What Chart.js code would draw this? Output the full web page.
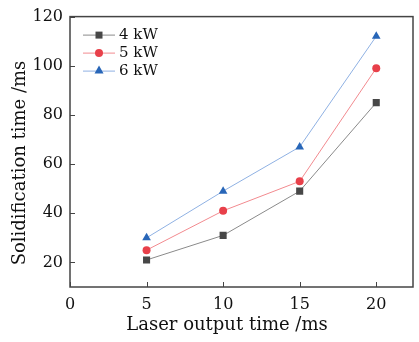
<!DOCTYPE html>
<html>
<head>
<meta charset="utf-8">
<script src="https://cdn.jsdelivr.net/npm/chart.js@4"></script>
<style>
html,body{margin:0;padding:0;background:#fff;}
#wrap{width:419px;height:342px;position:relative;}
</style>
</head>
<body>
<div id="wrap"><canvas id="c" width="419" height="342"></canvas></div>
<script>
const xValues = [5, 10, 15, 20];
const seriesNames = ['4 kW', '5 kW', '6 kW'];
const s4kW = [21, 31, 49, 85];
const s5kW = [25, 41, 53, 99];
const s6kW = [30, 49, 67, 112];
const xTicks = [0, 5, 10, 15, 20];
const yTicks = [20, 40, 60, 80, 100, 120];
const xTitle = 'Laser output time /ms';
const yTitle = 'Solidification time /ms';

const FONT = "'DejaVu Serif', 'Liberation Serif', serif";

function pts(arr){ return xValues.map((x,i)=>({x:x, y:arr[i]})); }

const styles = [
  {line:'#8a8a8a', mark:'#474747', shape:'rect', r:5},
  {line:'#f28a8f', mark:'#e8404a', shape:'circle', r:4},
  {line:'#8fb1e3', mark:'#2866b8', shape:'triangle', r:5}
];
const dataArr = [s4kW, s5kW, s6kW];

const datasets = dataArr.map((d,i)=>({
  label: seriesNames[i],
  data: pts(d),
  borderColor: styles[i].line,
  borderWidth: 1,
  backgroundColor: styles[i].mark,
  pointBackgroundColor: styles[i].mark,
  pointBorderColor: styles[i].mark,
  pointBorderWidth: 0,
  pointStyle: styles[i].shape,
  pointRadius: styles[i].r,
  tension: 0
}));

const framePlugin = {
  id:'frame',
  afterDraw(chart){
    const ctx = chart.ctx, a = chart.chartArea;
    const xs = chart.scales.x, ys = chart.scales.y;
    ctx.save();
    ctx.strokeStyle = '#444';
    ctx.lineWidth = 1.5;
    ctx.strokeRect(a.left, a.top, a.right - a.left, a.bottom - a.top);
    ctx.lineWidth = 1;
    ctx.beginPath();
    xTicks.forEach(v=>{
      const px = Math.round(xs.getPixelForValue(v)) + 0.5;
      ctx.moveTo(px, a.bottom); ctx.lineTo(px, a.bottom - 5);
    });
    yTicks.forEach(v=>{
      const py = Math.round(ys.getPixelForValue(v)) + 0.5;
      ctx.moveTo(a.left, py); ctx.lineTo(a.left + 5, py);
    });
    ctx.stroke();
    // legend
    const lx0 = a.left + 13, lx1 = a.left + 45, tx = a.left + 49;
    ctx.font = "15px " + FONT;
    ctx.textBaseline = 'middle';
    ctx.textAlign = 'left';
    chart.data.datasets.forEach((ds,i)=>{
      const y = a.top + 18 + i*18;
      ctx.strokeStyle = ds.borderColor;
      ctx.lineWidth = 1;
      ctx.beginPath(); ctx.moveTo(lx0, y+0.5); ctx.lineTo(lx1, y+0.5); ctx.stroke();
      ctx.fillStyle = ds.pointBackgroundColor;
      ctx.beginPath();
      const st = ds.pointStyle, r = ds.pointRadius, cx=(lx0+lx1)/2;
      if(st==='rect'){ const h=3.5; ctx.rect(cx-h, y-h+0.5, 2*h, 2*h); }
      else if(st==='circle'){ ctx.arc(cx, y+0.5, r, 0, Math.PI*2); }
      else { ctx.moveTo(cx, y-r); ctx.lineTo(cx+r*0.9, y+r*0.6); ctx.lineTo(cx-r*0.9, y+r*0.6); ctx.closePath(); }
      ctx.fill();
      ctx.fillStyle = '#111';
      ctx.fillText(ds.label, tx, y+1);
    });
    // axis titles
    ctx.fillStyle = '#111';
    ctx.font = "18px " + FONT;
    ctx.textAlign = 'center';
    ctx.textBaseline = 'middle';
    ctx.fillText(xTitle, 227, 325);
    ctx.translate(20, 163);
    ctx.rotate(-Math.PI/2);
    ctx.fillText(yTitle, 0, 0);
    ctx.restore();
  }
};

new Chart(document.getElementById('c'), {
  type:'line',
  data:{datasets},
  options:{
    responsive:false,
    animation:false,
    devicePixelRatio:1,
    layout:{padding:{top:15, right:6, left:0, bottom:0}},
    plugins:{legend:{display:false}, tooltip:{enabled:false}},
    scales:{
      x:{
        type:'linear', min:0, max:22.4,
        afterBuildTicks(s){ s.ticks = xTicks.map(v=>({value:v})); },
        afterFit(s){ s.height = 55; },
        grid:{display:false, drawTicks:false},
        border:{display:false},
        ticks:{font:{family:FONT, size:16}, color:'#111', padding:8, maxRotation:0},
        title:{display:false}
      },
      y:{
        type:'linear', min:10, max:120,
        afterBuildTicks(s){ s.ticks = yTicks.map(v=>({value:v})); },
        afterFit(s){ s.width = 70; },
        grid:{display:false, drawTicks:false},
        border:{display:false},
        ticks:{font:{family:FONT, size:16}, color:'#111', padding:7},
        title:{display:false}
      }
    }
  },
  plugins:[framePlugin]
});
</script>
</body>
</html>
